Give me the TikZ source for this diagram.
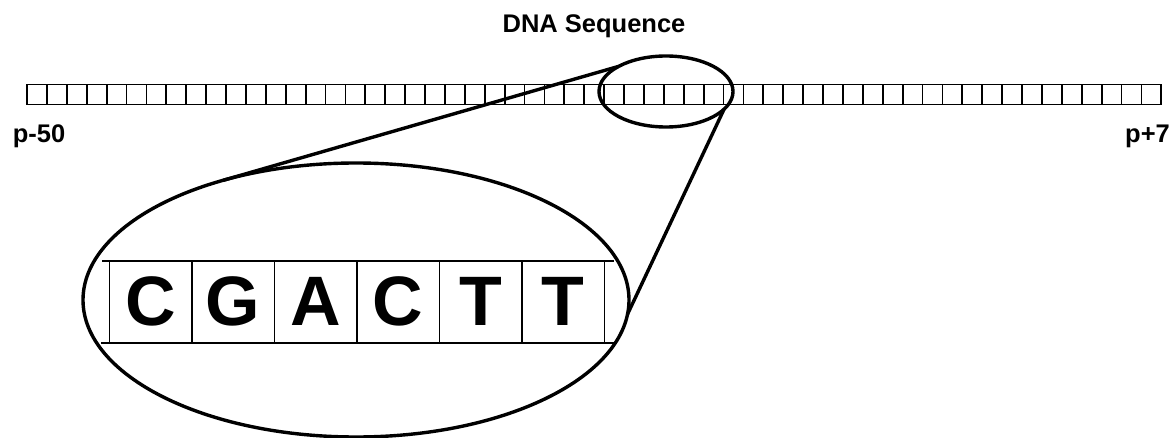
\documentclass[tikz,border=0pt]{standalone}
\usepackage{fontspec}
\setmainfont{Liberation Sans}
\usetikzlibrary{shapes.geometric}
\begin{document}
\begin{tikzpicture}[x=1pt,y=-1pt,
  cell/.style={draw, line width=1.8pt, minimum width=19.9pt, minimum height=20pt, inner sep=0pt, outer sep=0pt},
  bigcell/.style={draw, line width=1.5pt, minimum width=82.5pt, minimum height=82pt, inner sep=0pt, outer sep=0pt},
  letter/.style={font=\bfseries\fontsize{70}{70}\selectfont, inner sep=0pt, anchor=base},
  lab/.style={font=\bfseries\fontsize{25.5}{26}\selectfont, inner sep=0pt},
  ring/.style={draw, ellipse, line width=3.4pt, inner sep=0pt, outer sep=0pt},
  link/.style={line width=3.4pt}]
\useasboundingbox (0,0) rectangle (1172,438);
% title and end labels
\node[lab, anchor=base] (title) at (594,32.7) {DNA Sequence};
\node[lab, anchor=base west] (pleft) at (12.7,143) {p-50};
\node[lab, anchor=base west] (pright) at (1125,143) {p+7};
% strip of cells
\foreach \i in {0,...,56} {
  \node[cell] (c\i) at ({27+19.9*\i+9.95},94.5) {};
}
% magnifier ellipses
\node[ring, minimum width=134pt, minimum height=71pt] (small) at (666,91.5) {};
\node[ring, minimum width=546pt, minimum height=274pt] (big) at (356,300) {};
\draw[link] (small.152) -- (big.138.7);
\draw[link] (small.-17.7) -- (big.-3.4);
% enlarged cells
\coordinate (tl) at (102,261);
\coordinate (tr) at (614,261);
\coordinate (bl) at (101,343);
\coordinate (br) at (616,343);
\draw[line width=1.6pt] (tl) -- (tr);
\draw[line width=1.6pt] (bl) -- (br);
\foreach \l [count=\k from 0] in {C,G,A,C,T,T} {
  \node[bigcell] (b\k) at ({109.3+82.5*\k+41.25},302) {};
  \node[letter] (l\k) at ({109.3+82.5*\k+41.25},325) {\l};
}
\end{tikzpicture}
\end{document}
